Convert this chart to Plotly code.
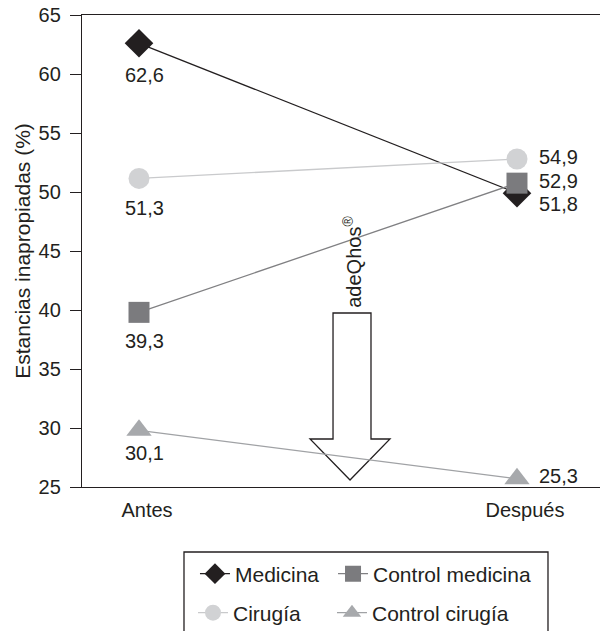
import plotly.graph_objects as go

# ---------------- data ----------------
categories = ["Antes", "Después"]

medicina = [62.6, 49.9]
cirugia = [51.15, 52.8]
control_medicina = [39.8, 50.75]
control_cirugia = [29.8, 25.7]

medicina_lbl = ["62,6", "51,8"]
cirugia_lbl = ["51,3", "54,9"]
control_medicina_lbl = ["39,3", "52,9"]
control_cirugia_lbl = ["30,1", "25,3"]

y_ticks = [25, 30, 35, 40, 45, 50, 55, 60, 65]

# ---------------- style ----------------
INK = "#231f20"
FONT = "Liberation Sans, Arial, sans-serif"

series = [
    dict(name="Medicina", y=medicina, lbl=medicina_lbl, symbol="diamond", size=22,
         color=INK, line=INK, legend="legend", off=[(5, -32), (20, -10.5)]),
    dict(name="Control medicina", y=control_medicina, lbl=control_medicina_lbl, symbol="square", size=21,
         color="#7b7b7e", line="#808083", legend="legend2", off=[(5, -28.5), (20, 2.5)]),
    dict(name="Cirugía", y=cirugia, lbl=cirugia_lbl, symbol="circle", size=21,
         color="#d1d2d4", line="#c9cacc", legend="legend3", off=[(5, -30), (20, 1.5)]),
    dict(name="Control cirugía", y=control_cirugia, lbl=control_cirugia_lbl, symbol="triangle-up", size=22,
         color="#a7a9ac", line="#a0a2a5", legend="legend4", off=[(5, -23), (20, 2.5)]),
]

fig = go.Figure()
# draw order: Medicina first so the square sits over the diamond
order = [0, 2, 1, 3]
for i in order:
    s = series[i]
    fig.add_trace(go.Scatter(
        x=categories, y=s["y"], name=s["name"], mode="lines+markers",
        line=dict(color=s["line"], width=1.3),
        marker=dict(symbol=s["symbol"], size=s["size"], color=s["color"], line=dict(width=0)),
        legend=s["legend"], hoverinfo="skip",
    ))

# value labels
for s in series:
    for j, cat in enumerate(categories):
        dx, dy = s["off"][j]
        fig.add_annotation(
            x=cat, y=s["y"][j], xref="x", yref="y", text=s["lbl"][j], showarrow=False,
            xanchor="center" if j == 0 else "left", yanchor="middle",
            xshift=dx, yshift=dy, font=dict(size=20, color=INK, family=FONT),
        )

# hollow block arrow (paper coords)
fig.add_shape(
    type="path", xref="paper", yref="paper", layer="below",
    path="M 0.4846 0.3686 L 0.5579 0.3686 L 0.5579 0.1017 L 0.5946 0.1017 L 0.5174 0.0148 "
         "L 0.4402 0.1017 L 0.4846 0.1017 Z",
    line=dict(color=INK, width=1.3), fillcolor="white",
)
fig.add_annotation(
    x=0.522, y=0.478, xref="paper", yref="paper", text="adeQhos<sup>®</sup>",
    textangle=-90, showarrow=False, xanchor="center", yanchor="middle",
    font=dict(size=20, color=INK, family=FONT),
)

# legend box
fig.add_shape(
    type="rect", xref="paper", yref="paper",
    x0=0.1969, x1=0.8996, y0=-0.33, y1=-0.1377,
    line=dict(color=INK, width=1.3), fillcolor="rgba(0,0,0,0)",
)

def legend_box(x, y):
    return dict(
        orientation="v", x=x, xanchor="left", y=y, yanchor="middle",
        bgcolor="rgba(0,0,0,0)", borderwidth=0,
        font=dict(size=21, color=INK, family=FONT), itemclick=False, itemdoubleclick=False,
    )

rng = [-0.1508, 1.2196]
fig.update_layout(
    width=612, height=631,
    margin=dict(l=82, r=12, t=15, b=144, autoexpand=False),
    paper_bgcolor="white", plot_bgcolor="white",
    font=dict(family=FONT, size=20, color=INK),
    showlegend=True,
    xaxis=dict(
        type="category", categoryorder="array", categoryarray=categories,
        range=rng, showline=True, linecolor=INK, linewidth=1.3, mirror=True,
        ticks="outside", ticklen=5, tickcolor="rgba(0,0,0,0)",
        ticklabelshift=8, tickfont=dict(size=20, color=INK),
        showgrid=False, zeroline=False,
    ),
    xaxis2=dict(
        overlaying="x", anchor="y", side="bottom", range=rng,
        tickmode="array", tickvals=[rng[0], 0.5556], ticks="outside", ticklen=10,
        tickwidth=1.3, tickcolor=INK, showticklabels=False, showline=False,
        showgrid=False, zeroline=False,
    ),
    yaxis=dict(
        range=[25, 65], tickmode="array", tickvals=y_ticks, ticks="outside", ticklen=11,
        tickwidth=1.3, tickcolor=INK, showline=True, linecolor=INK, linewidth=1.3,
        showgrid=False, zeroline=False, ticklabelstandoff=5,
        tickfont=dict(size=20, color=INK),
        title=dict(text="Estancias inapropiadas (%)", font=dict(size=21, color=INK), standoff=2),
    ),
    legend=legend_box(0.2181, -0.1843),
    legend2=legend_box(0.4846, -0.1843),
    legend3=legend_box(0.2143, -0.2669),
    legend4=legend_box(0.4826, -0.2669),
)

# remove the browser's default 8 px body margin so the figure fills the window
fig.write_html(
    "out.html",
    config={"displayModeBar": False, "staticPlot": False},
    post_script="document.body.style.margin='0px';document.body.style.overflow='hidden';",
)
